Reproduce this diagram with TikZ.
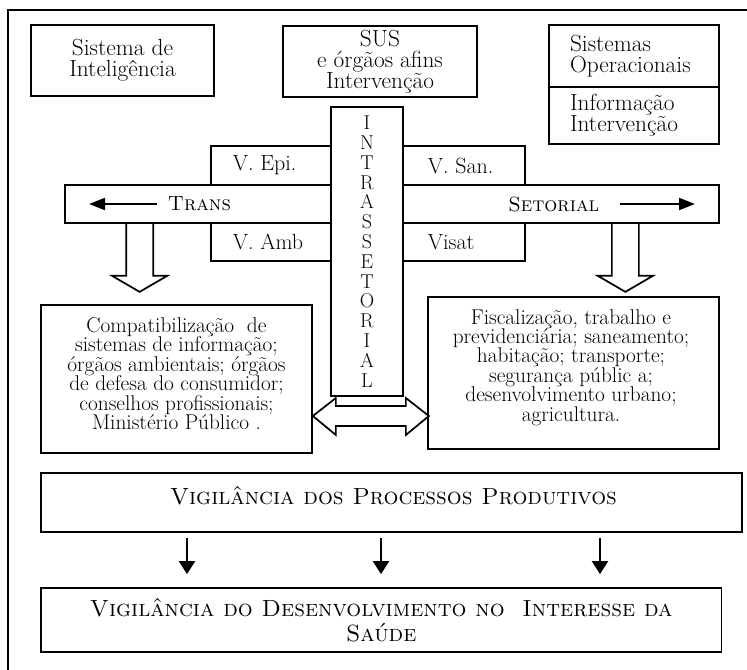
\documentclass[tikz,border=0pt]{standalone}
\usetikzlibrary{arrows.meta,calc}
\tikzset{every picture/.style={line width=1.3pt}}

\begin{document}
\begin{tikzpicture}[x=0.75pt,y=0.75pt,yscale=-1,xscale=1,
  box/.style 2 args={draw, rectangle, inner sep=0pt, minimum width=#1*0.75pt, minimum height=#2*0.75pt, align=center},
  big/.style={font=\fontsize{17.5}{15.9}\selectfont},
  mid/.style={font=\fontsize{16.5}{15}\selectfont},
  small/.style={font=\fontsize{16}{14.6}\selectfont},
  sc/.style={font=\fontsize{15.4}{19}\selectfont\scshape},
  bigsc/.style={font=\fontsize{17.6}{19.2}\selectfont\scshape},
  hollow/.style={draw, line join=miter},
  bararrow/.style={-{Triangle[length=12pt,width=9pt]}, line width=1.5pt},
  downarrow/.style={-{Triangle[length=9.75pt,width=12pt]}, line width=1.5pt}]
\useasboundingbox (0,0) rectangle (747,670);
\fill[white] (0,0) rectangle (747,670);

%Straight Lines
\draw (8,670) -- (8,10) -- (747,10) ;

%Shape: Rectangle
\node[box={183}{71}, big] (intel) at (122.5,60.5) {Sistema de\\Inteligência};
%Shape: Rectangle
\node[box={194}{71}, big] (sus) at (380,61.5) {SUS\\e órgãos afins\\Intervenção};
%Shape: Rectangle
\node[box={170}{62}, big, align=left, text width=96pt] (sisop) at (634,56) {Sistemas\\Operacionais};
%Shape: Rectangle
\node[box={170}{57}, big, align=left, text width=96pt] (inform) at (634,115.5) {Informação\\Intervenção};

%Shape: Rectangle
\node[box={314}{39}] (vtop) at (368,165.5) {};
%Shape: Rectangle
\node[box={314}{38}] (vbot) at (368,242) {};
%Shape: Rectangle
\node[box={654}{38}] (hbar) at (392,204) {};
%Shape: Rectangle
\node[box={72}{289}, fill=white, font=\fontsize{15}{14.85}\selectfont] (intra) at (367,251.5) {I\\N\\T\\R\\A\\S\\S\\E\\T\\O\\R\\I\\A\\L};

% Text Node
\node[mid, anchor=west, inner sep=0pt] (vepi) at (232,165.5) {V. Epi.};
% Text Node
\node[mid, anchor=west, inner sep=0pt] (vsan) at (427,165.5) {V. San.};
% Text Node
\node[mid, anchor=west, inner sep=0pt] (vamb) at (232,242) {V. Amb};
% Text Node
\node[mid, anchor=west, inner sep=0pt] (visat) at (427,242) {Visat};
% Text Node
\node[sc, anchor=west, inner sep=0pt] (trans) at (167,204) {Trans};
% Text Node
\node[sc, anchor=east, inner sep=0pt] (setor) at (600,204) {Setorial};

%Straight Lines
\draw[bararrow] (trans.west) ++(-10,0) -- ++(-68,0) ;
%Straight Lines
\draw[bararrow] (setor.east) ++(20,0) -- ++(75,0) ;

%Shape: Down Arrow
\draw[hollow] ($(hbar.south west)+(62,0)$) -- ++(0,52) -- ++(-14,0) -- ++(27.5,16) -- ++(27.5,-16) -- ++(-14,0) -- ++(0,-52) ;
%Shape: Down Arrow
\draw[hollow] ($(hbar.south east)+(-108,0)$) -- ++(0,52) -- ++(-14,0) -- ++(27.5,16) -- ++(27.5,-16) -- ++(-14,0) -- ++(0,-52) ;

%Shape: Rectangle
\node[box={271}{148}] (lbox) at (176.5,379) {};
% Text Node
\node[small, align=center] (ltext) at (176.5,373.5) {Compatibilização\ \ de\\sistemas de informação;\\órgãos ambientais; órgãos\\de defesa do consumidor;\\conselhos profissionais;\\Ministério Público .};
%Shape: Rectangle
\node[box={291}{152}] (rbox) at (573.5,373) {};
% Text Node
\node[small, align=center] (rtext) at (571,367.5) {Fiscalização, trabalho e\\previdenciária; saneamento;\\habitação; transporte;\\segurança públic a;\\desenvolvimento urbano;\\agricultura.};

%Shape: Left Right Arrow
\draw[hollow] (lbox.east |- 0,416) -- ++(23,-18) -- ++(0,8) -- ++(70,0) -- ++(0,-8) -- ++(23,18) -- ++(-23,19) -- ++(0,-9) -- ++(-70,0) -- ++(0,9) -- cycle ;

%Shape: Rectangle
\node[box={701}{59}] (vpp) at (391.5,502.5) {};
% Text Node
\node[bigsc] (vpptext) at (393.5,496) {Vigilância dos Processos Produtivos};
%Shape: Rectangle
\node[box={680.5}{64}, bigsc] (dev) at (381.25,620) {Vigilância do Desenvolvimento no\ \ Interesse da\\Saúde};

%Straight Lines
\coordinate (a1) at ($(vpp.south)+(-204.5,0)$);
\coordinate (a2) at ($(vpp.south)+(-10.5,0)$);
\coordinate (a3) at ($(vpp.south)+(208.5,0)$);
\foreach \a in {a1,a2,a3}
  \draw[downarrow, shorten <=3.75pt, shorten >=9.75pt] (\a) -- (\a |- dev.north) ;

\end{tikzpicture}
\end{document}
